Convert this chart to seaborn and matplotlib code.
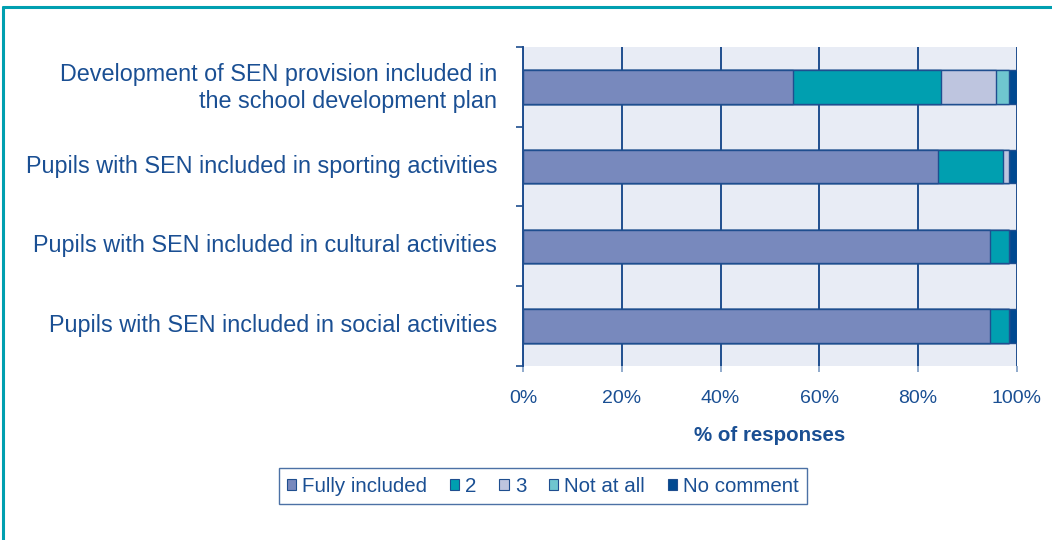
import matplotlib
matplotlib.use("Agg")
import matplotlib.pyplot as plt
from matplotlib.lines import Line2D
from matplotlib.patches import Patch
from matplotlib.ticker import FixedLocator, PercentFormatter
from matplotlib.transforms import ScaledTranslation
import numpy as np
import pandas as pd
import seaborn as sns

categories = [
    "Development of SEN provision included in\nthe school development plan",
    "Pupils with SEN included in sporting activities",
    "Pupils with SEN included in cultural activities",
    "Pupils with SEN included in social activities",
]
series_names = ["Fully included", "2", "3", "Not at all", "No comment"]
fully_included = [54.7, 84.1, 94.6, 94.6]
two = [29.9, 13.1, 3.7, 3.7]
three = [11.1, 1.1, 0.0, 0.0]
not_at_all = [2.6, 0.0, 0.0, 0.0]
no_comment = [1.7, 1.7, 1.7, 1.7]
x_ticks = [0, 20, 40, 60, 80, 100]

colors = ["#7889bd", "#009fb0", "#bec5df", "#6fc6cf", "#004990"]
text_color = "#1a4f93"
edge_color = "#1f4e8f"

sns.set_theme(style="white")
plt.rcParams["font.family"] = ["Liberation Sans", "DejaVu Sans"]

fig = plt.figure(figsize=(10.52, 5.4), dpi=100)
ax = fig.add_axes([0.4972, 0.3222, 0.9667 - 0.4972, 0.913 - 0.3222])
ax.set_facecolor("#e8ecf5")

vals = np.array([fully_included, two, three, not_at_all, no_comment])
cum = np.cumsum(vals, axis=0)
df = pd.DataFrame({"category": categories})
for i in range(len(series_names) - 1, -1, -1):
    df["v"] = cum[i]
    sns.barplot(data=df, x="v", y="category", orient="h", color=colors[i],
                saturation=1, width=0.42, edgecolor=edge_color, linewidth=1.0,
                ax=ax, zorder=3)

ax.set_xlim(0, 100)
ax.set_ylim(3.5, -0.5)
ax.set_xticks(x_ticks)
ax.xaxis.set_major_formatter(PercentFormatter(decimals=0))
ax.grid(axis="x", color=edge_color, linewidth=1.4, zorder=1)
ax.grid(axis="y", visible=False)
ax.set_axisbelow(True)
for s in ["top", "bottom", "right"]:
    ax.spines[s].set_visible(False)
ax.spines["left"].set_color(edge_color)
ax.spines["left"].set_linewidth(1.4)

ax.tick_params(axis="x", length=4, width=1.2, color="#7d9cc4", direction="out", bottom=True,
               pad=13, labelsize=14, labelcolor=text_color)
ax.tick_params(axis="y", which="major", length=0, pad=18.5, labelsize=16.8, labelcolor=text_color)
ax.yaxis.set_minor_locator(FixedLocator([-0.5, 0.5, 1.5, 2.5, 3.5]))
ax.tick_params(axis="y", which="minor", length=5, width=1.2, color=edge_color, direction="out", left=True)

ax.set_ylabel("")
ax.set_xlabel("% of responses", fontsize=14.8, fontweight="bold", color=text_color, labelpad=14)

handles = [Patch(facecolor=c, edgecolor=edge_color, linewidth=0.8) for c in colors]
leg = fig.legend(handles, series_names, loc="center", bbox_to_anchor=(0.516, 0.1), ncol=5,
                 frameon=True, fancybox=False, fontsize=14.8, handlelength=0.45,
                 handleheight=0.45, handletextpad=0.3, columnspacing=1.1,
                 borderpad=0.4, labelcolor=text_color)
leg.get_frame().set_edgecolor(edge_color)
leg.get_frame().set_linewidth(1.0)

teal = "#009fb0"
fig.add_artist(Line2D([3 / 1052, 1.0], [1 - 7 / 540, 1 - 7 / 540], color=teal, linewidth=2.2,
                      transform=fig.transFigure))
fig.add_artist(Line2D([3 / 1052, 3 / 1052], [0.0, 1 - 7 / 540], color=teal, linewidth=2.2,
                      transform=fig.transFigure))

fig.canvas.draw()
shift = ScaledTranslation(0, 3 / 100, fig.dpi_scale_trans)
for tick in ax.yaxis.get_major_ticks():
    lbl = tick.label1
    lbl.set_horizontalalignment("right")
    lbl.set_multialignment("right")
    lbl.set_linespacing(1.2)
    lbl.set_transform(lbl.get_transform() + shift)

fig.savefig("out.png", dpi=100)
